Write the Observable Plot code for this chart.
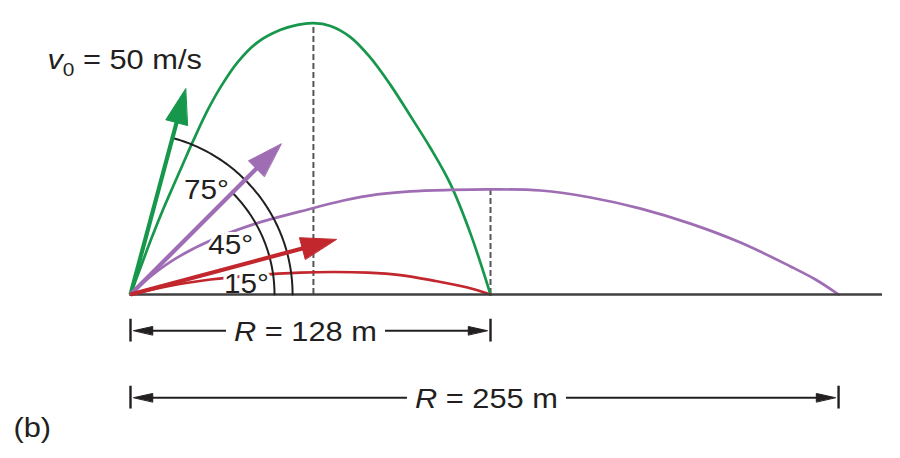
<!DOCTYPE html>
<html>
<head>
<meta charset="utf-8">
<script src="https://cdn.jsdelivr.net/npm/d3@7"></script>
<script src="https://cdn.jsdelivr.net/npm/@observablehq/plot@0.6"></script>
<style>
  html, body { margin: 0; padding: 0; background: #fff; }
  svg { display: block; }
</style>
</head>
<body>
<script>
// ---------------- data (metres) ----------------
const speed = 50;                         // launch speed, m/s
const angles = [75, 45, 15];              // launch angles, degrees
const angleLabels = ["75°", "45°", "15°"];
const seriesColors = ["#16974b", "#9f6db3", "#c1272d"];
const ranges = [128, 255];
const rangeLabels = ["R = 128 m", "R = 255 m"];
const speedLabel = "v0 = 50 m/s";
const panelLabel = "(b)";

// 75° trajectory
const greenX = [0, 3.6, 7.55, 11.9, 15.5, 19.1, 22.7, 27.7, 32.4, 38.5, 45.7, 54.0, 60.1, 65.8, 71.9, 79.1, 86.3, 93.5, 100.7, 107.9, 115.1, 122.3, 129.5];
const greenY = [0, 9.7, 20.2, 31.0, 39.3, 47.5, 55.6, 66.2, 74.6, 83.5, 90.7, 95.2, 97.0, 97.6, 96.6, 92.6, 85.2, 75.4, 64.2, 52.7, 39.7, 21.9, 0];
// 45° trajectory
const purpleX = [0, 7.2, 16.2, 28.8, 45.0, 61.2, 76.6, 88.8, 100.7, 115.1, 129.5, 147.5, 165.5, 183.5, 201.4, 219.4, 237.4, 246.4, 254.7];
const purpleY = [0, 6.5, 12.9, 19.4, 25.5, 29.9, 33.8, 36.0, 37.1, 37.6, 37.8, 37.4, 34.9, 30.9, 25.5, 18.7, 10.1, 5.4, 0];
// 15° trajectory
const redX = [0, 14.4, 28.8, 43.2, 61.2, 73.0, 85.3, 97.1, 109.0, 121.2, 129.5];
const redY = [0, 3.2, 5.4, 6.8, 7.9, 8.1, 7.9, 7.0, 5.0, 2.5, 0];

// ---------------- layout (drawing units = metres at equal x/y scale) ----------------
const K = 2.78;                 // px per unit
const OX = 130, OY = 294;       // origin in px
const W = 900, H = 458;
const ARROW_SCALE = 1.532;      // units per (m/s)
const HEAD_LEN = 12.6, HEAD_HW = 4.0;
const GROUND_END = 270.5;
const DIM_Y = [-13.0, -37.1];
const DIM_SHIFT = [-1.8, 0.7];
const DIM_TICK = 4.1, DIM_HEAD_LEN = 6.8, DIM_HEAD_HW = 1.5, DIM_OFF = 1.2, DIM_GAP = 28.6;
const ARCS = [{r: 58.3, to: 75}, {r: 51.8, to: 45}];
const ANGLE_LABEL_POS = [[27.3, 37.6], [36.0, 17.8], [41.7, 3.8]];
const SPEED_LABEL_POS = [-29.9, 84.2];
const PANEL_LABEL_POS = [-42.1, -48.0];
const TEXT_STRETCH = 1.1;
const INK = "#231f20";

// ---------------- derived rows ----------------
const traj = [
  {color: seriesColors[0], xs: greenX, ys: greenY},
  {color: seriesColors[1], xs: purpleX, ys: purpleY},
  {color: seriesColors[2], xs: redX, ys: redY}
];
const trajRows = traj.flatMap((t, i) => t.xs.map((x, j) => ({id: i, color: t.color, x, y: t.ys[j]})));
const peaks = [0, 1].map(i => {
  const t = traj[i];
  const j = d3.maxIndex(t.ys);
  return {x: t.xs[j], y0: 0, y: t.ys[j]};
});

const rad = a => a * Math.PI / 180;
const arrows = angles.map((a, i) => {
  const c = Math.cos(rad(a)), s = Math.sin(rad(a)), L = speed * ARROW_SCALE;
  const bx = (L - HEAD_LEN) * c, by = (L - HEAD_LEN) * s;
  return {
    shaft: {x1: 0, y1: 0, x2: (L - HEAD_LEN + 1) * c, y2: (L - HEAD_LEN + 1) * s, color: seriesColors[i]},
    head: [
      {id: i, color: seriesColors[i], x: L * c, y: L * s},
      {id: i, color: seriesColors[i], x: bx - HEAD_HW * s, y: by + HEAD_HW * c},
      {id: i, color: seriesColors[i], x: bx + HEAD_HW * s, y: by - HEAD_HW * c}
    ]
  };
});
const shaftRows = arrows.map(a => a.shaft);
const headRows = arrows.flatMap(a => a.head);

const arcRows = ARCS.flatMap((arc, i) => d3.range(0, arc.to + 0.5, 1).map(a => ({id: i, x: arc.r * Math.cos(rad(a)), y: arc.r * Math.sin(rad(a))})));

const angleLabelRows = angleLabels.map((t, i) => ({text: t, x: ANGLE_LABEL_POS[i][0], y: ANGLE_LABEL_POS[i][1]}));

const dims = ranges.map((R, i) => {
  const end = traj[i === 0 ? 0 : 1].xs.at(-1);
  return {label: rangeLabels[i], end, mid: end / 2 + DIM_SHIFT[i], y: DIM_Y[i]};
});
const dimTicks = dims.flatMap(d => [{x: 0, y1: d.y - DIM_TICK, y2: d.y + DIM_TICK}, {x: d.end, y1: d.y - DIM_TICK, y2: d.y + DIM_TICK}]);
const dimSegs = dims.flatMap(d => [
  {x1: DIM_OFF + 2, x2: d.mid - DIM_GAP, y: d.y},
  {x1: d.mid + DIM_GAP, x2: d.end - DIM_OFF - 2, y: d.y}
]);
const dimHeads = dims.flatMap((d, i) => [
  {id: "l" + i, x: DIM_OFF, y: d.y},
  {id: "l" + i, x: DIM_OFF + DIM_HEAD_LEN, y: d.y + DIM_HEAD_HW},
  {id: "l" + i, x: DIM_OFF + DIM_HEAD_LEN, y: d.y - DIM_HEAD_HW},
  {id: "r" + i, x: d.end - DIM_OFF, y: d.y},
  {id: "r" + i, x: d.end - DIM_OFF - DIM_HEAD_LEN, y: d.y + DIM_HEAD_HW},
  {id: "r" + i, x: d.end - DIM_OFF - DIM_HEAD_LEN, y: d.y - DIM_HEAD_HW}
]);

// ---------------- plot ----------------
const svg = Plot.plot({
  width: W, height: H,
  marginTop: 0, marginRight: 0, marginBottom: 0, marginLeft: 0,
  x: {domain: [-OX / K, (W - OX) / K], range: [0, W], axis: null},
  y: {domain: [(OY - H) / K, OY / K], range: [H, 0], axis: null},
  color: {type: "identity"},
  style: {fontFamily: "'Liberation Sans', Arial, Helvetica, sans-serif", background: "#fff", color: INK, overflow: "visible"},
  marks: [
    Plot.ruleX(peaks, {x: "x", y1: "y0", y2: "y", stroke: "#555", strokeWidth: 2, strokeDasharray: "6,3"}),
    Plot.line(trajRows, {x: "x", y: "y", z: "id", stroke: "color", strokeWidth: 2.7, curve: "catmull-rom"}),
    Plot.text(angleLabelRows, {x: "x", y: "y", text: "text", fontSize: 27, fill: INK, stroke: "#fff", strokeWidth: 6, paintOrder: "stroke"}),
    Plot.ruleY([0], {x1: () => 0, x2: () => GROUND_END, stroke: "#404040", strokeWidth: 2.6}),
    Plot.line(arcRows, {x: "x", y: "y", z: "id", stroke: INK, strokeWidth: 2}),
    Plot.link(shaftRows, {x1: "x1", y1: "y1", x2: "x2", y2: "y2", stroke: "color", strokeWidth: 4.2}),
    Plot.line(headRows, {x: "x", y: "y", z: "id", fill: "color", stroke: "color", strokeWidth: 1, curve: "linear-closed"}),
    Plot.ruleX(dimTicks, {x: "x", y1: "y1", y2: "y2", stroke: INK, strokeWidth: 2.4}),
    Plot.link(dimSegs, {x1: "x1", x2: "x2", y1: "y", y2: "y", stroke: INK, strokeWidth: 2}),
    Plot.line(dimHeads, {x: "x", y: "y", z: "id", fill: INK, stroke: INK, strokeWidth: 1, curve: "linear-closed"}),
    Plot.text(dims, {x: "mid", y: "y", text: "label", fontSize: 28, fill: INK, dy: 1}),
    Plot.text([speedLabel], {x: () => SPEED_LABEL_POS[0], y: () => SPEED_LABEL_POS[1], text: d => d, textAnchor: "start", fontSize: 28, fill: INK}),
    Plot.text([panelLabel], {x: () => PANEL_LABEL_POS[0], y: () => PANEL_LABEL_POS[1], text: d => d, textAnchor: "start", fontSize: 28, fill: INK})
  ]
});

// italic R / italic v with subscript 0, and slight horizontal stretch of all labels
d3.select(svg).selectAll("text").each(function () {
  const t = this.textContent;
  const sel = d3.select(this);
  if (t.startsWith("R = ")) {
    sel.text(null);
    sel.append("tspan").attr("font-style", "italic").text("R");
    sel.append("tspan").text(" = " + t.slice(4));
  } else if (t === speedLabel) {
    sel.text(null);
    sel.append("tspan").attr("font-style", "italic").text("v");
    sel.append("tspan").attr("font-size", 19).attr("dy", 7).text("0");
    sel.append("tspan").attr("dy", -7).text(" = 50 m/s");
  }
  const xa = this.getAttribute("x");
  if (xa != null && xa !== "") this.setAttribute("x", (+xa) / TEXT_STRETCH);
  const tr = this.getAttribute("transform") || "";
  this.setAttribute("transform", (tr + ` scale(${TEXT_STRETCH},1)`).trim());
});

document.body.appendChild(svg);
</script>
</body>
</html>
